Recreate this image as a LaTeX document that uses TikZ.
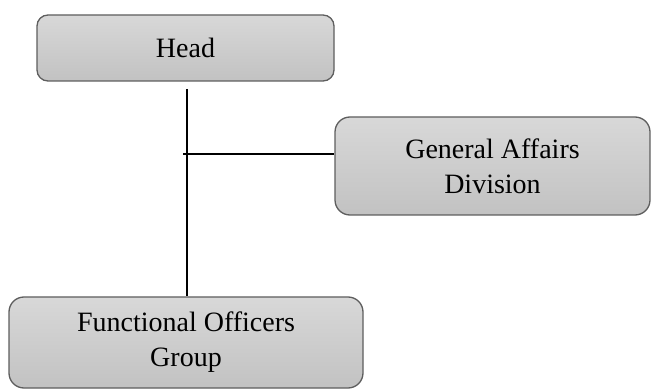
\documentclass[tikz,border=0pt]{standalone}
\usepackage{fontspec}
\setmainfont{Liberation Serif}
\definecolor{boxtop}{HTML}{D8D8D8}
\definecolor{boxbot}{HTML}{C2C2C2}
\definecolor{boxline}{HTML}{5E5E5E}
\tikzset{
  orgbox/.style={draw=boxline, line width=1.3pt, top color=boxtop, bottom color=boxbot,
    align=center, inner sep=0pt, font=\fontsize{28}{35}\selectfont, text=black},
  link/.style={draw=black, line width=2.2pt}
}
\begin{document}
\begin{tikzpicture}[x=1pt,y=-1pt]
\useasboundingbox (0,0) rectangle (651,390);
\node[orgbox, rounded corners=11pt, minimum width=297pt, minimum height=66pt] (head) at (185.5,48) {Head};
\node[orgbox, rounded corners=15pt, minimum width=315pt, minimum height=98pt] (ga) at (492.5,166) {General Affairs\\Division};
\node[orgbox, rounded corners=15pt, minimum width=354pt, minimum height=91pt] (fo) at (186,342.5) {Functional Officers\\Group};
\coordinate (top) at (187,89);
\coordinate (j) at (183,154);
\draw[link] (top) -- (top |- fo.north);
\draw[link] (j) -- (j -| ga.west);
\end{tikzpicture}
\end{document}
